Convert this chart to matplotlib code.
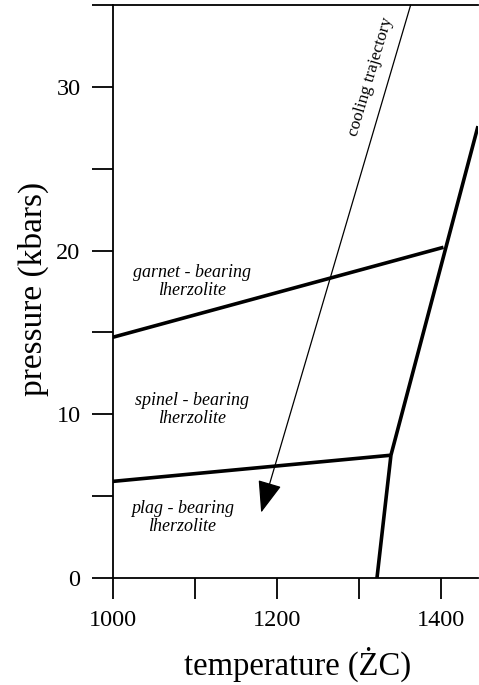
import numpy as np
import matplotlib.pyplot as plt

# phase boundaries (temperature in deg C, pressure in kbar)
solidus_t = [1322, 1339, 1445]
solidus_p = [0.0, 7.5, 27.6]
garnet_spinel_t = [1000, 1403]
garnet_spinel_p = [14.7, 20.2]
spinel_plag_t = [1000, 1339]
spinel_plag_p = [5.9, 7.5]
cooling_start = (1363, 35.0)
cooling_end = (1181, 4.0)

xticks = [1000, 1100, 1200, 1300, 1400]
xticklabels = ['1000', '', '1200', '', '1400']
yticks = [0, 5, 10, 15, 20, 25, 30, 35]
yticklabels = ['0', '', '10', '', '20', '', '30', '']

plt.rcParams['font.family'] = ['Liberation Serif', 'DejaVu Serif']

fig = plt.figure(figsize=(4.79, 6.85), dpi=100)
ax = fig.add_axes([0.2349, 0.1562, 0.7630, 0.8365])

ax.plot(solidus_t, solidus_p, c='k', lw=2.6, solid_capstyle='butt')
ax.plot(garnet_spinel_t, garnet_spinel_p, c='k', lw=2.6, solid_capstyle='butt')
ax.plot(spinel_plag_t, spinel_plag_p, c='k', lw=2.6, solid_capstyle='butt')

ax.annotate('', xy=cooling_end, xytext=cooling_start, annotation_clip=False,
            arrowprops=dict(arrowstyle='-|>,head_length=1.0,head_width=0.38',
                            mutation_scale=20, lw=0.9, color='k',
                            shrinkA=0, shrinkB=0))

ax.text(1314, 30.6, 'cooling trajectory', rotation=73.5, fontsize=12.5,
        ha='center', va='center', rotation_mode='anchor')
ax.text(1097, 18.1, 'garnet - bearing\nlherzolite', style='italic', fontsize=13,
        ha='center', va='center', linespacing=1.1)
ax.text(1097, 10.3, 'spinel - bearing\nlherzolite', style='italic', fontsize=13,
        ha='center', va='center', linespacing=1.1)
ax.text(1085, 3.7, 'plag - bearing\nlherzolite', style='italic', fontsize=13,
        ha='center', va='center', linespacing=1.05)

ax.set_xlim(1000, 1445)
ax.set_ylim(0, 35)
ax.set_xticks(xticks)
ax.set_xticklabels(xticklabels)
ax.set_yticks(yticks)
ax.set_yticklabels(yticklabels)
ax.tick_params(direction='out', length=15, width=1.3, labelsize=17.5, pad=8)
ax.tick_params(axis='x', pad=8)

for side in ['left', 'bottom', 'top']:
    ax.spines[side].set_linewidth(1.3)
ax.spines['right'].set_visible(False)

ax.set_xlabel('temperature (ŻC)', fontsize=23.5)
ax.xaxis.set_label_coords(0.507, -0.12)
ax.set_ylabel('pressure (kbars)', fontsize=24)
ax.yaxis.set_label_coords(-0.175, 0.505)

fig.savefig('out.png', dpi=100)
